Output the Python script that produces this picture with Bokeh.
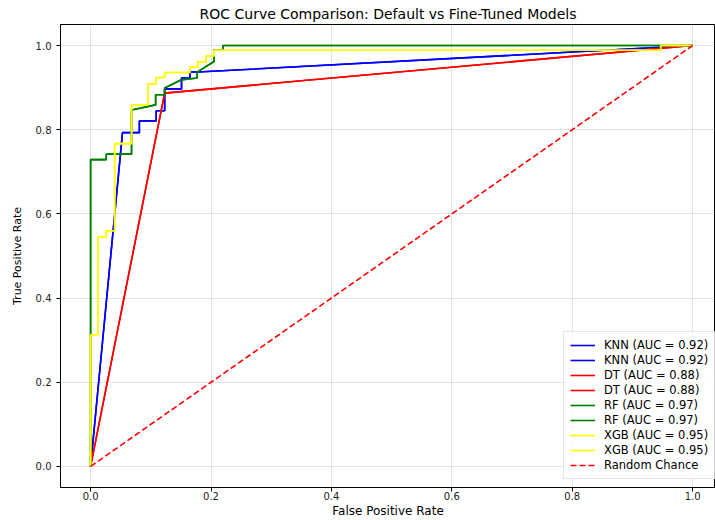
from bokeh.plotting import figure
from bokeh.models import (Range1d, FixedTicker, NumeralTickFormatter, Legend, LegendItem)
from bokeh.embed import file_html
from bokeh.resources import INLINE

# ---- data ----
knn_fpr = [0.0, 0.053, 0.081, 0.081, 0.109, 0.109, 0.123, 0.123, 0.151, 0.151, 0.165, 0.165, 0.178, 1.0]
knn_tpr = [0.0, 0.793, 0.793, 0.821, 0.821, 0.845, 0.845, 0.897, 0.897, 0.923, 0.923, 0.937, 0.937, 1.0]

dt_fpr = [0.0, 0.123, 1.0]
dt_tpr = [0.0, 0.887, 1.0]

rf_fpr = [0.0, 0.0, 0.026, 0.026, 0.068, 0.068, 0.108, 0.108, 0.123, 0.123, 0.150, 0.177, 0.177, 0.205, 0.205, 0.220, 0.220, 1.0]
rf_tpr = [0.0, 0.729, 0.729, 0.742, 0.742, 0.847, 0.859, 0.883, 0.883, 0.899, 0.918, 0.923, 0.937, 0.962, 0.990, 0.990, 1.0, 1.0]

xgb_fpr = [0.0, 0.0, 0.012, 0.012, 0.026, 0.026, 0.040, 0.040, 0.068, 0.068, 0.095, 0.095, 0.109, 0.109,
           0.123, 0.123, 0.165, 0.165, 0.178, 0.178, 0.192, 0.192, 0.205, 0.205, 0.947, 0.947, 1.0]
xgb_tpr = [0.0, 0.313, 0.313, 0.545, 0.545, 0.560, 0.560, 0.767, 0.767, 0.859, 0.859, 0.909, 0.909, 0.924,
           0.924, 0.936, 0.936, 0.949, 0.949, 0.961, 0.961, 0.975, 0.975, 0.989, 0.989, 1.0, 1.0]

chance_x = [0.0, 1.0]
chance_y = [0.0, 1.0]

models = ["KNN", "DT", "RF", "XGB"]
aucs = [0.92, 0.88, 0.97, 0.95]
colors = ["blue", "red", "green", "yellow"]
curves = [(knn_fpr, knn_tpr), (dt_fpr, dt_tpr), (rf_fpr, rf_tpr), (xgb_fpr, xgb_tpr)]
versions = ["Default", "Fine-Tuned"]

ticks = [0.0, 0.2, 0.4, 0.6, 0.8, 1.0]
FONT = "DejaVu Sans"

p = figure(width=715, height=520,
           x_range=Range1d(-0.05, 1.038), y_range=Range1d(-0.05, 1.05),
           output_backend="svg", toolbar_location=None,
           title="ROC Curve Comparison: Default vs Fine-Tuned Models",
           min_border_left=60, min_border_right=0, min_border_top=0, min_border_bottom=0)

p.title.text_font = FONT
p.title.text_font_size = "14px"
p.title.text_font_style = "normal"
p.title.text_color = "black"
p.title.align = "center"
p.title.standoff = 6

p.outline_line_color = "black"
p.outline_line_width = 1

xt = FixedTicker(ticks=ticks)
yt = FixedTicker(ticks=ticks)
p.xaxis.ticker = xt
p.yaxis.ticker = yt
p.xgrid.ticker = xt
p.ygrid.ticker = yt
for g in (p.xgrid, p.ygrid):
    g.grid_line_color = "#b0b0b0"
    g.grid_line_alpha = 0.35
    g.grid_line_width = 1

for ax in (p.xaxis, p.yaxis):
    ax.formatter = NumeralTickFormatter(format="0.0")
    ax.axis_line_color = "black"
    ax.major_tick_line_color = "black"
    ax.major_tick_in = 0
    ax.major_tick_out = 4
    ax.minor_tick_line_color = None
    ax.major_label_text_font = FONT
    ax.major_label_text_font_size = "10px"
    ax.major_label_text_color = "#222222"
    ax.axis_label_text_font = FONT
    ax.axis_label_text_font_style = "normal"
    ax.axis_label_text_color = "black"

p.xaxis.axis_label = "False Positive Rate"
p.yaxis.axis_label = "True Positive Rate"
p.xaxis.axis_label_text_font_size = "12px"
p.yaxis.axis_label_text_font_size = "11px"
p.xaxis.major_label_standoff = 0
p.xaxis.axis_label_standoff = 1
p.yaxis.major_label_standoff = 5
p.yaxis.axis_label_standoff = 9

items = []
for name, auc, col, (fx, ty) in zip(models, aucs, colors, curves):
    for v in versions:
        r = p.line(fx, ty, line_color=col, line_width=1.6)
        items.append(LegendItem(label=f"{name} (AUC = {auc:.2f})", renderers=[r]))

rc = p.line(chance_x, chance_y, line_color="red", line_width=1.6, line_dash="6 3")
items.append(LegendItem(label="Random Chance", renderers=[rc]))

legend = Legend(items=items, location=(503, 8))
legend.label_text_font = FONT
legend.label_text_font_size = "11.5px"
legend.label_text_color = "black"
legend.label_height = 12
legend.glyph_height = 12
legend.glyph_width = 25
legend.label_standoff = 9
legend.spacing = 1
legend.padding = 6
legend.margin = 0
legend.border_line_color = "#cccccc"
legend.background_fill_alpha = 0.8
p.add_layout(legend)

open("out.html", "w").write(file_html(p, INLINE))
